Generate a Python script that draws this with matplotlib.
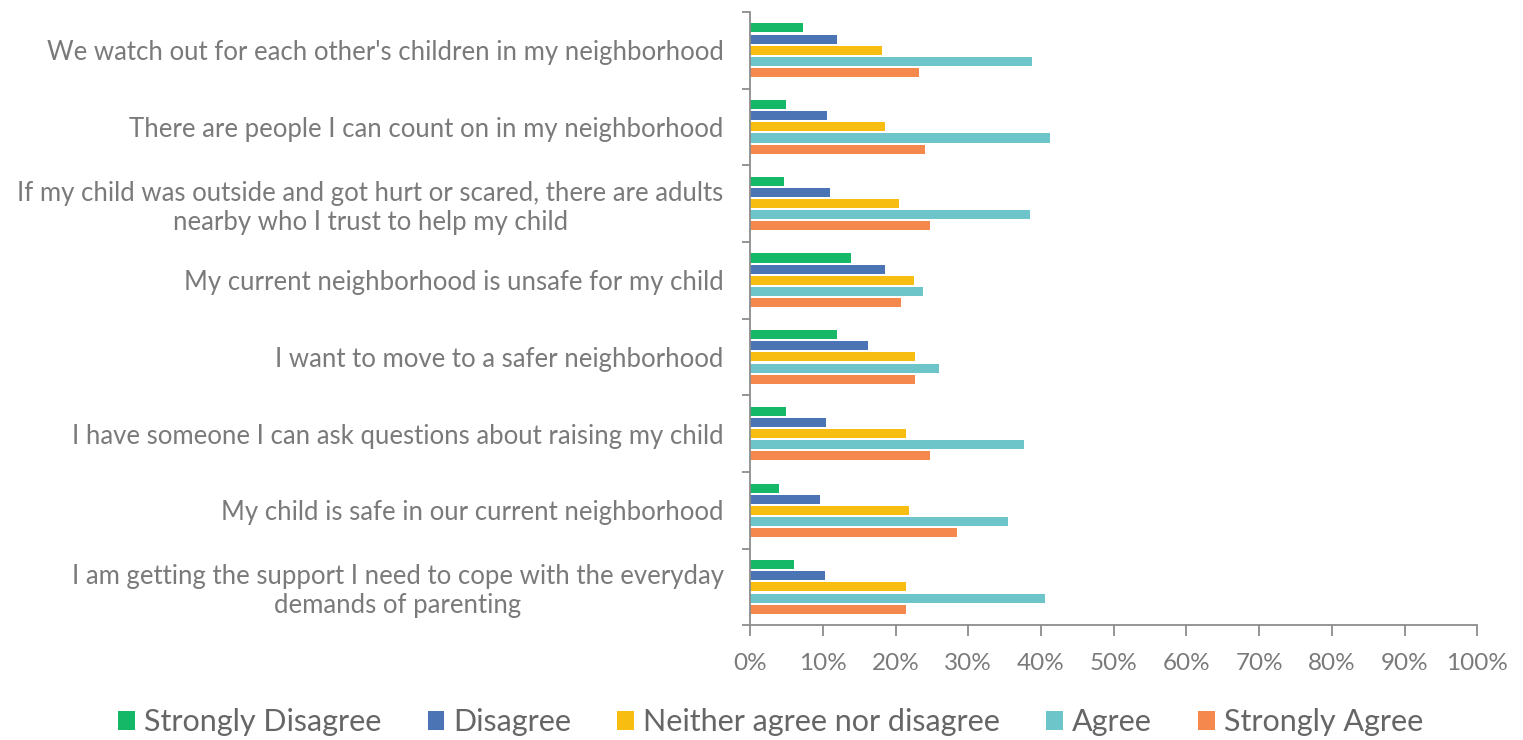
import numpy as np
import matplotlib.pyplot as plt

plt.rcParams['font.family'] = ['Lato', 'DejaVu Sans']

statements = [
    "We watch out for each other's children in my neighborhood",
    "There are people I can count on in my neighborhood",
    "If my child was outside and got hurt or scared, there are adults\nnearby who I trust to help my child",
    "My current neighborhood is unsafe for my child",
    "I want to move to a safer neighborhood",
    "I have someone I can ask questions about raising my child",
    "My child is safe in our current neighborhood",
    "I am getting the support I need to cope with the everyday\ndemands of parenting",
]
series = ["Strongly Disagree", "Disagree", "Neither agree nor disagree", "Agree", "Strongly Agree"]

strongly_disagree = [7.3, 5.0, 4.7, 13.9, 11.9, 5.0, 4.0, 6.0]
disagree = [11.9, 10.6, 11.0, 18.5, 16.2, 10.4, 9.6, 10.3]
neither = [18.2, 18.5, 20.5, 22.5, 22.7, 21.5, 21.8, 21.5]
agree = [38.8, 41.2, 38.5, 23.8, 26.0, 37.6, 35.5, 40.5]
strongly_agree = [23.2, 24.1, 24.8, 20.8, 22.7, 24.8, 28.4, 21.4]

colors = ['#14B866', '#4A74B4', '#F7BE11', '#6DC4C9', '#F5884C']
grey = '#7A7A7A'

values = [strongly_disagree, disagree, neither, agree, strongly_agree]

fig = plt.figure(figsize=(15.23, 7.40), dpi=100)
ax = fig.add_axes([0.4925, 0.155, 0.4775, 0.829])

y = np.arange(len(statements))
step = 0.145
for k, (vals, name, c) in enumerate(zip(values, series, colors)):
    ax.barh(y + (k - 2) * step, vals, height=0.118, color=c, label=name)

ax.set_xlim(0, 100)
ax.set_ylim(len(statements) - 0.5, -0.5)
ax.set_xticks(np.arange(0, 101, 10))
ax.set_xticklabels([f'{v}%' for v in range(0, 101, 10)])
ax.set_yticks(y)
ax.set_yticklabels(statements, multialignment='center')
ax.set_yticks(np.arange(-0.5, len(statements), 1), minor=True)

for s in ['top', 'right']:
    ax.spines[s].set_visible(False)
for s in ['left', 'bottom']:
    ax.spines[s].set_color('#8C8C8C')
    ax.spines[s].set_linewidth(1.3)

ax.tick_params(axis='y', which='major', length=0, pad=19, labelsize=18.5, labelcolor=grey)
ax.tick_params(axis='y', which='minor', length=6, width=1.3, color='#8C8C8C')
ax.tick_params(axis='x', length=8, width=1.3, color='#8C8C8C', labelsize=17.5,
               labelcolor=grey, pad=12)

leg = fig.legend(loc='lower center', bbox_to_anchor=(0.506, -0.032), ncol=5,
                 frameon=False, fontsize=22, handlelength=0.55, handleheight=0.55,
                 handletextpad=0.3, columnspacing=1.5)
for t in leg.get_texts():
    t.set_color('#666666')

fig.savefig('out.png', dpi=100)
